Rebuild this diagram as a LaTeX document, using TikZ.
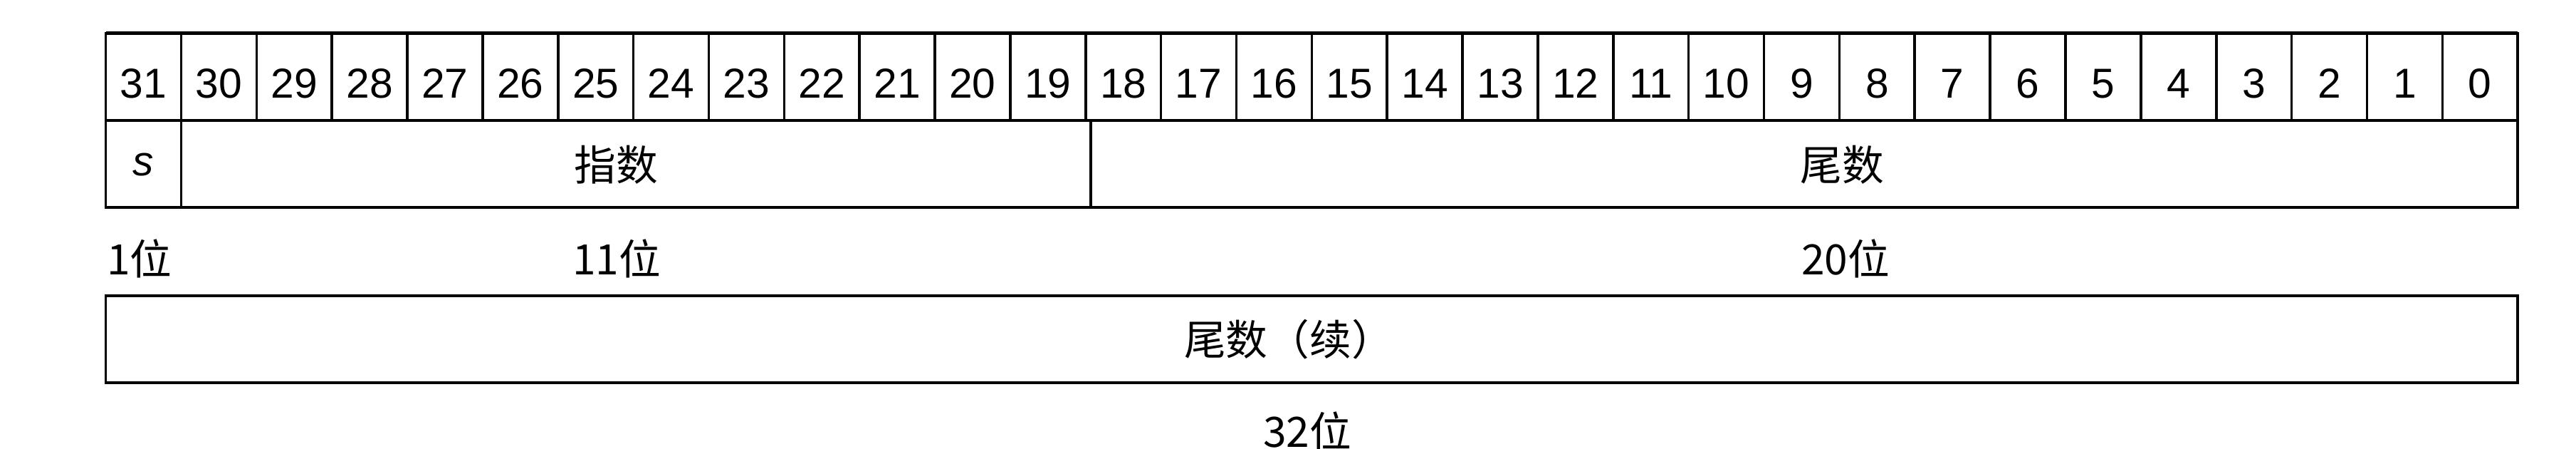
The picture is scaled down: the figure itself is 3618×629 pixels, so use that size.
\documentclass[tikz,border=0pt]{standalone}
\usepackage{fontspec}
\setmainfont{Liberation Sans}
\newfontfamily\cjk{Noto Sans CJK SC}
\usepackage{tikz}

\begin{document}
\begin{tikzpicture}[x=0.01cm,y=-0.01cm,line width=1pt,
    every node/.style={font=\fontsize{16.7}{18}\selectfont,inner sep=0pt},
    bitcell/.style={draw,minimum width=1.0586cm,minimum height=1.223cm,outer sep=0pt},
    field/.style={font=\fontsize{16.7}{18}\selectfont\cjk},
    border/.style={line width=1.3pt}]
  \useasboundingbox (0,0) rectangle (3618,629);

  % Bit numbers
  \foreach \i in {0,...,31}
    \node[bitcell] (c\i) at ({148.6+105.86*(31-\i)+52.93},107.85) {};
  \foreach \i in {0,...,31}
    \node[anchor=base] (n\i) at ([yshift=0.32cm]c\i.south) {\i};

  % Fields
  \draw (148.6,169) rectangle (254.5,291);
  \draw (254.5,169) rectangle (1532,291);
  \draw (1532,169) rectangle (3536,291);
  \draw[border] (148.6,46.7) -- (3536,46.7);
  \draw[border] (148.6,169) -- (3536,169);
  \draw[border] (148.6,291) -- (3536,291);
  \node (s) at (201,231) {\itshape s};
  \node[field] (exp) at (865,231) {指数};
  \node[field] (man) at (2587,231) {尾数};

  % Widths
  \node[field] (w1) at (196,363) {1位};
  \node[field] (w11) at (866,363) {11位};
  \node[field] (w20) at (2592,363) {20位};

  % Second word
  \draw (148.6,415) rectangle (3536,537);
  \draw[border] (148.6,415) -- (3536,415);
  \draw[border] (148.6,537) -- (3536,537);
  \node[field] (cont) at (1810,476) {尾数（续）};
  \node[field] (w32) at (1836,605) {32位};
\end{tikzpicture}
\end{document}
